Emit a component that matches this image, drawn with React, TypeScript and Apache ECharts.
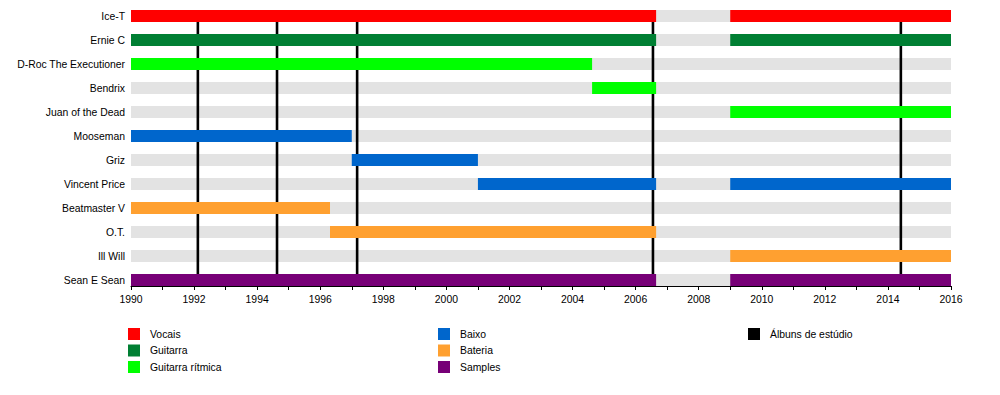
import React, { useEffect, useRef } from "react";
import * as echarts from "echarts";

const members = [
  "Ice-T",
  "Ernie C",
  "D-Roc The Executioner",
  "Bendrix",
  "Juan of the Dead",
  "Mooseman",
  "Griz",
  "Vincent Price",
  "Beatmaster V",
  "O.T.",
  "Ill Will",
  "Sean E Sean",
];

const yearStart = 1990;
const yearEnd = 2016;

// [member, start, end]
const vocais: [string, number, number][] = [
  ["Ice-T", 1990, 2006.65],
  ["Ice-T", 2009, 2016],
];
const guitarra: [string, number, number][] = [
  ["Ernie C", 1990, 2006.65],
  ["Ernie C", 2009, 2016],
];
const guitarraRitmica: [string, number, number][] = [
  ["D-Roc The Executioner", 1990, 2004.62],
  ["Bendrix", 2004.62, 2006.65],
  ["Juan of the Dead", 2009, 2016],
];
const baixo: [string, number, number][] = [
  ["Mooseman", 1990, 1997],
  ["Griz", 1997, 2001],
  ["Vincent Price", 2001, 2006.65],
  ["Vincent Price", 2009, 2016],
];
const bateria: [string, number, number][] = [
  ["Beatmaster V", 1990, 1996.31],
  ["O.T.", 1996.31, 2006.65],
  ["Ill Will", 2009, 2016],
];
const samples: [string, number, number][] = [
  ["Sean E Sean", 1990, 2006.65],
  ["Sean E Sean", 2009, 2016],
];

const albums = [1992.12, 1994.63, 1997.17, 2006.55, 2014.41];

const roles = [
  { name: "Vocais", color: "#ff0000", data: vocais },
  { name: "Guitarra", color: "#007f33", data: guitarra },
  { name: "Guitarra rítmica", color: "#00ff00", data: guitarraRitmica },
  { name: "Baixo", color: "#0066cc", data: baixo },
  { name: "Bateria", color: "#ffa030", data: bateria },
  { name: "Samples", color: "#770077", data: samples },
];

const FONT = "Liberation Sans, Arial, sans-serif";
const FS = 10.4;
const BAR_H = 12;

export default function App() {
  const ref = useRef<HTMLDivElement>(null);
  useEffect(() => {
    if (!ref.current) return;
    const chart = echarts.init(ref.current, undefined, { renderer: "svg" });

    const barRender = (params: any, api: any) => {
      const row = api.value(0);
      const p1 = api.coord([api.value(1), row]);
      const p2 = api.coord([api.value(2), row]);
      return {
        type: "rect",
        shape: { x: p1[0], y: p1[1] - BAR_H / 2, width: p2[0] - p1[0], height: BAR_H },
        style: { fill: api.visual("color") },
      };
    };

    const series: any[] = [
      {
        type: "custom",
        name: "bg",
        silent: true,
        itemStyle: { color: "#e3e3e3" },
        encode: { x: [1, 2], y: 0 },
        data: members.map((_, i) => [i, yearStart, yearEnd]),
        renderItem: barRender,
      },
      {
        type: "custom",
        name: "Álbuns de estúdio",
        itemStyle: { color: "#000000" },
        encode: { x: 0, y: [1, 2] },
        data: albums.map((a) => [a, 0, members.length - 1]),
        renderItem: (params: any, api: any) => {
          const p1 = api.coord([api.value(0), api.value(1)]);
          const p2 = api.coord([api.value(0), api.value(2)]);
          return {
            type: "line",
            shape: { x1: p1[0], y1: p1[1], x2: p2[0], y2: p2[1] },
            style: { stroke: "#000", lineWidth: 2.6 },
          };
        },
      },
      ...roles.map((r) => ({
        type: "custom",
        name: r.name,
        itemStyle: { color: r.color },
        encode: { x: [1, 2], y: 0 },
        data: r.data.map((d) => [members.indexOf(d[0]), d[1], d[2]]),
        renderItem: barRender,
      })),
    ];

    const legendCommon = {
      orient: "vertical",
      top: 328,
      padding: 0,
      icon: "rect",
      itemWidth: 12,
      itemHeight: 12,
      itemGap: 4.5,
      selectedMode: false,
      textStyle: { fontFamily: FONT, fontSize: FS, color: "#000", padding: [0, 0, 0, 5] },
    };

    chart.setOption({
      animation: false,
      textStyle: { fontFamily: FONT },
      grid: { left: 131, right: 49, top: 4, height: 288 },
      legend: [
        { ...legendCommon, left: 128, data: ["Vocais", "Guitarra", "Guitarra rítmica"] },
        { ...legendCommon, left: 438, data: ["Baixo", "Bateria", "Samples"] },
        { ...legendCommon, left: 748, data: ["Álbuns de estúdio"] },
      ],
      xAxis: {
        type: "value",
        min: yearStart,
        max: yearEnd,
        interval: 2,
        offset: -6,
        splitLine: { show: false },
        axisLine: { show: true, lineStyle: { color: "#000", width: 1 } },
        axisTick: { show: true, length: 4, lineStyle: { color: "#000" } },
        minorTick: { show: true, splitNumber: 2, length: 4, lineStyle: { color: "#000" } },
        axisLabel: {
          color: "#000",
          fontSize: FS,
          fontFamily: FONT,
          margin: 8,
          formatter: (v: number) => String(v),
        },
      },
      yAxis: {
        type: "category",
        data: members,
        inverse: true,
        axisLine: { show: false },
        axisTick: { show: false },
        splitLine: { show: false },
        axisLabel: { color: "#000", fontSize: FS, fontFamily: FONT, margin: 6 },
      },
      series,
    });
    return () => chart.dispose();
  }, []);
  return <div ref={ref} style={{ width: 1000, height: 395, margin: -8 }} />;
}
